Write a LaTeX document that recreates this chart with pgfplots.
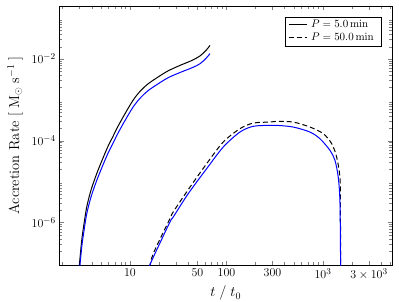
\documentclass[border=0pt]{standalone}
\usepackage{pgfplots}
\pgfplotsset{compat=1.18}
\begin{document}
\begin{tikzpicture}
\useasboundingbox (-59.3pt,-36.7pt) rectangle (339.7pt,265.3pt);
\begin{axis}[
 at={(0,0)}, anchor=south west,
 scale only axis, width=332.7pt, height=259.6pt,
 xmode=log, ymode=log,
 xmin=1.85, xmax=5200, ymin=9e-8, ymax=0.2,
 xtick={10,50,100,300,1000,3000},
 xticklabels={$10$,$50$,$100$,$300$,$10^3$,$3\times10^3$},
 minor xtick={2,3,4,5,6,7,8,9,20,30,40,60,70,80,90,200,400,500,600,700,800,900,2000,4000,5000},
 ytick={1e-6,1e-4,1e-2},
 yticklabels={$10^{-6}$,$10^{-4}$,$10^{-2}$},
 minor ytick={2e-7,3e-7,4e-7,5e-7,6e-7,7e-7,8e-7,9e-7,
  2e-6,3e-6,4e-6,5e-6,6e-6,7e-6,8e-6,9e-6,
  2e-5,3e-5,4e-5,5e-5,6e-5,7e-5,8e-5,9e-5,
  2e-4,3e-4,4e-4,5e-4,6e-4,7e-4,8e-4,9e-4,
  2e-3,3e-3,4e-3,5e-3,6e-3,7e-3,8e-3,9e-3,
  2e-2,3e-2,4e-2,5e-2,6e-2,7e-2,8e-2,9e-2,
  2e-1},
 tick label style={font=\fontsize{12.5}{14}\selectfont},
 xlabel={$t\;/\;t_0$},
 ylabel={Accretion Rate $[\;\mathrm{M_\odot}\;\mathrm{s^{-1}}\;]$},
 xlabel style={font=\fontsize{14.5}{16}\selectfont, at={(axis description cs:0.5,-0.108)}, anchor=center},
 ylabel style={font=\fontsize{14.5}{16}\selectfont, at={(axis description cs:-0.133,0.5)}, rotate=0, anchor=center},
 legend style={at={(1,1)}, anchor=north east, xshift=-11pt, yshift=-11pt,
   font=\fontsize{10.5}{12.5}\selectfont, draw=black, legend cell align=left,
   inner xsep=3pt, inner ysep=1.5pt},
 legend image code/.code={\draw[#1] (0pt,0pt) -- (18pt,0pt);},
 legend style={nodes={inner xsep=4pt}},
]
% group 1 black solid (P = 5 min)
\addplot[black, line width=1pt, smooth] coordinates {
(2.97,8e-8)(3.16,3.70e-7)(3.34,9.46e-7)(3.56,2.40e-6)(3.94,6.15e-6)(4.52,1.57e-5)
(5.29,3.94e-5)(5.92,7.30e-5)(6.67,1.28e-4)(7.51,2.25e-4)(8.88,4.59e-4)(10.74,9.70e-4)
(12.70,1.61e-3)(15.37,2.45e-3)(19.51,3.60e-3)(24.77,5.09e-3)(32.97,6.94e-3)(43.9,9.19e-3)
(53.1,1.18e-2)(61.3,1.61e-2)(67.5,2.14e-2)};
\addlegendentry{$P = 5.0\,\mathrm{min}$}
% group 2 black dashed (P = 50 min)
\addplot[black, line width=1pt, dash pattern=on 5pt off 3pt, smooth] coordinates {
(16.0,8e-8)(17.44,1.75e-7)(25.97,1.25e-6)(28.1,1.82e-6)(40.2,6.40e-6)(62.4,2.76e-5)
(92.6,9.29e-5)(138,1.97e-4)(189.6,2.70e-4)(282,2.86e-4)(331,2.98e-4)(492,2.86e-4)
(733,2.16e-4)(1007,1.49e-4)(1231,8.49e-5)(1387,4.0e-5)(1500,1.30e-5)(1517,3.5e-6)(1525,8e-8)};
\addlegendentry{$P = 50.0\,\mathrm{min}$}
% group 1 blue
\addplot[blue, line width=1pt, smooth, forget plot] coordinates {
(2.97,5.4e-8)(3.16,2.52e-7)(3.34,6.43e-7)(3.56,1.63e-6)(3.94,4.18e-6)(4.52,1.07e-5)
(5.29,2.68e-5)(5.92,4.96e-5)(6.67,8.70e-5)(7.51,1.53e-4)(8.88,3.12e-4)(10.74,6.60e-4)
(12.70,1.09e-3)(15.37,1.67e-3)(19.51,2.45e-3)(24.77,3.46e-3)(32.97,4.65e-3)(43.9,6.07e-3)
(53.1,7.6e-3)(61.3,1.03e-2)(67.5,1.35e-2)};
% group 2 blue
\addplot[blue, line width=1pt, smooth, forget plot] coordinates {
(15.7,8e-8)(17.44,1.42e-7)(25.97,1.035e-6)(28.1,1.37e-6)(40.2,5.10e-6)(62.4,2.08e-5)
(92.6,7.02e-5)(138,1.63e-4)(189.6,2.25e-4)(282,2.38e-4)(331,2.38e-4)(492,2.16e-4)
(733,1.63e-4)(931,1.12e-4)(1182,5.83e-5)(1332,3.32e-5)(1440,1.30e-5)(1500,3.51e-6)
(1517,3.7e-7)(1525,8e-8)};
\end{axis}
\end{tikzpicture}
\end{document}
